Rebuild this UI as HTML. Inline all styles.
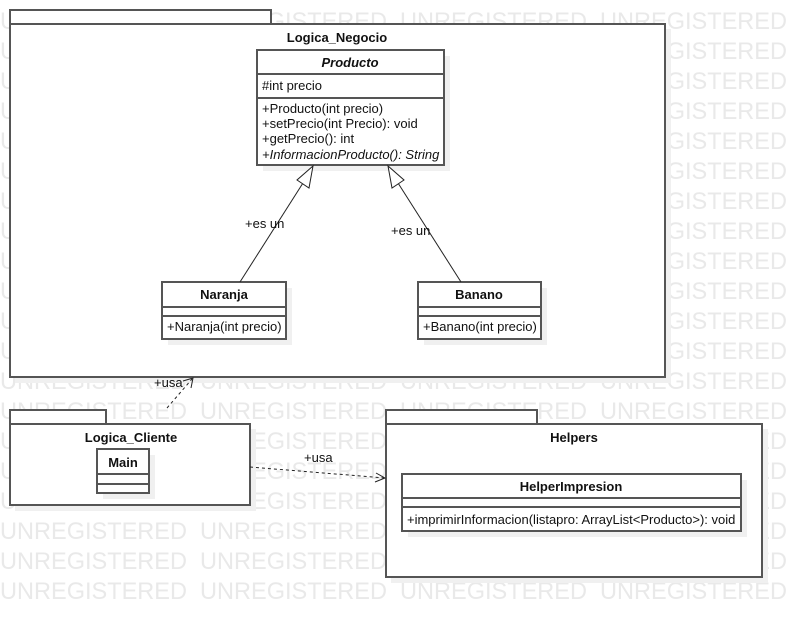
<!DOCTYPE html>
<html><head><meta charset="utf-8"><style>
html,body{margin:0;padding:0;background:#fff;}
svg{display:block;font-family:"Liberation Sans",Arial,sans-serif;}
</style></head><body>
<svg width="802" height="618" viewBox="0 0 802 618" xmlns="http://www.w3.org/2000/svg">
<defs>
<g id="row">
<text x="0" y="0" textLength="187" lengthAdjust="spacingAndGlyphs">UNREGISTERED</text><text x="200" y="0" textLength="187" lengthAdjust="spacingAndGlyphs">UNREGISTERED</text><text x="400" y="0" textLength="187" lengthAdjust="spacingAndGlyphs">UNREGISTERED</text><text x="600" y="0" textLength="187" lengthAdjust="spacingAndGlyphs">UNREGISTERED</text>
</g>
</defs>
<g fill="#e9e9e9" font-size="24">
<use href="#row" y="29"/><use href="#row" y="59"/><use href="#row" y="89"/><use href="#row" y="119"/>
<use href="#row" y="149"/><use href="#row" y="179"/><use href="#row" y="209"/><use href="#row" y="239"/>
<use href="#row" y="269"/><use href="#row" y="299"/><use href="#row" y="329"/><use href="#row" y="359"/>
<use href="#row" y="389"/><use href="#row" y="419"/><use href="#row" y="449"/><use href="#row" y="479"/>
<use href="#row" y="509"/><use href="#row" y="539"/><use href="#row" y="569"/><use href="#row" y="599"/>
</g>

<g fill="#f0f0f0">
<rect x="15" y="29" width="656" height="354"/>
<rect x="15" y="429" width="241" height="82"/>
<rect x="391" y="429" width="377" height="154"/>
</g>

<g stroke="#555" stroke-width="2" fill="#fff">
<rect x="10" y="10" width="261" height="14"/>
<rect x="10" y="24" width="655" height="353"/>
<rect x="10" y="410" width="96" height="14"/>
<rect x="10" y="424" width="240" height="81"/>
<rect x="386" y="410" width="151" height="14"/>
<rect x="386" y="424" width="376" height="153"/>
</g>

<g fill="#f0f0f0">
<rect x="263" y="56" width="187" height="115"/>
<rect x="168" y="288" width="124" height="57"/>
<rect x="424" y="288" width="123" height="57"/>
<rect x="103" y="455" width="52" height="44"/>
<rect x="408" y="480" width="339" height="57"/>
</g>

<g stroke="#555" stroke-width="2" fill="#fff">
<rect x="257" y="50" width="187" height="115"/>
<line x1="257" y1="74" x2="444" y2="74"/>
<line x1="257" y1="98" x2="444" y2="98"/>
<rect x="162" y="282" width="124" height="57"/>
<line x1="162" y1="307" x2="286" y2="307"/>
<line x1="162" y1="316" x2="286" y2="316"/>
<rect x="418" y="282" width="123" height="57"/>
<line x1="418" y1="307" x2="541" y2="307"/>
<line x1="418" y1="316" x2="541" y2="316"/>
<rect x="97" y="449" width="52" height="44"/>
<line x1="97" y1="474" x2="149" y2="474"/>
<line x1="97" y1="484" x2="149" y2="484"/>
<rect x="402" y="474" width="339" height="57"/>
<line x1="402" y1="498" x2="741" y2="498"/>
<line x1="402" y1="507" x2="741" y2="507"/>
</g>

<g stroke="#222" stroke-width="1" fill="none">
<line x1="240" y1="282" x2="303" y2="183"/>
<polygon points="313,166 297,180 309,188" fill="#fff"/>
<line x1="461" y1="282" x2="398" y2="183"/>
<polygon points="388,166 392,188 404,180" fill="#fff"/>
<line x1="167" y1="408" x2="192" y2="379" stroke-dasharray="3,3"/>
<polyline points="183,381 193,378 191,388"/>
<line x1="250" y1="467" x2="385" y2="478" stroke-dasharray="3,3"/>
<polyline points="376,473 385,478 375,482"/>
</g>

<g fill="#111" font-size="13">
<text x="337" y="42" text-anchor="middle" font-weight="bold">Logica_Negocio</text>
<text x="350" y="67" text-anchor="middle" font-weight="bold" font-style="italic">Producto</text>
<text x="262" y="90">#int precio</text>
<text x="262" y="113">+Producto(int precio)</text>
<text x="262" y="128">+setPrecio(int Precio): void</text>
<text x="262" y="143">+getPrecio(): int</text>
<text x="262" y="159" font-style="italic">+InformacionProducto(): String</text>
<text x="224" y="299" text-anchor="middle" font-weight="bold">Naranja</text>
<text x="167" y="331">+Naranja(int precio)</text>
<text x="479" y="299" text-anchor="middle" font-weight="bold">Banano</text>
<text x="423" y="331">+Banano(int precio)</text>
<text x="245" y="228">+es un</text>
<text x="391" y="235">+es un</text>
<text x="154" y="387">+usa</text>
<text x="304" y="462">+usa</text>
<text x="131" y="442" text-anchor="middle" font-weight="bold">Logica_Cliente</text>
<text x="123" y="467" text-anchor="middle" font-weight="bold">Main</text>
<text x="574" y="442" text-anchor="middle" font-weight="bold">Helpers</text>
<text x="571" y="491" text-anchor="middle" font-weight="bold">HelperImpresion</text>
<text x="407" y="524">+imprimirInformacion(listapro: ArrayList&lt;Producto&gt;): void</text>
</g>
</svg>
</body></html>
